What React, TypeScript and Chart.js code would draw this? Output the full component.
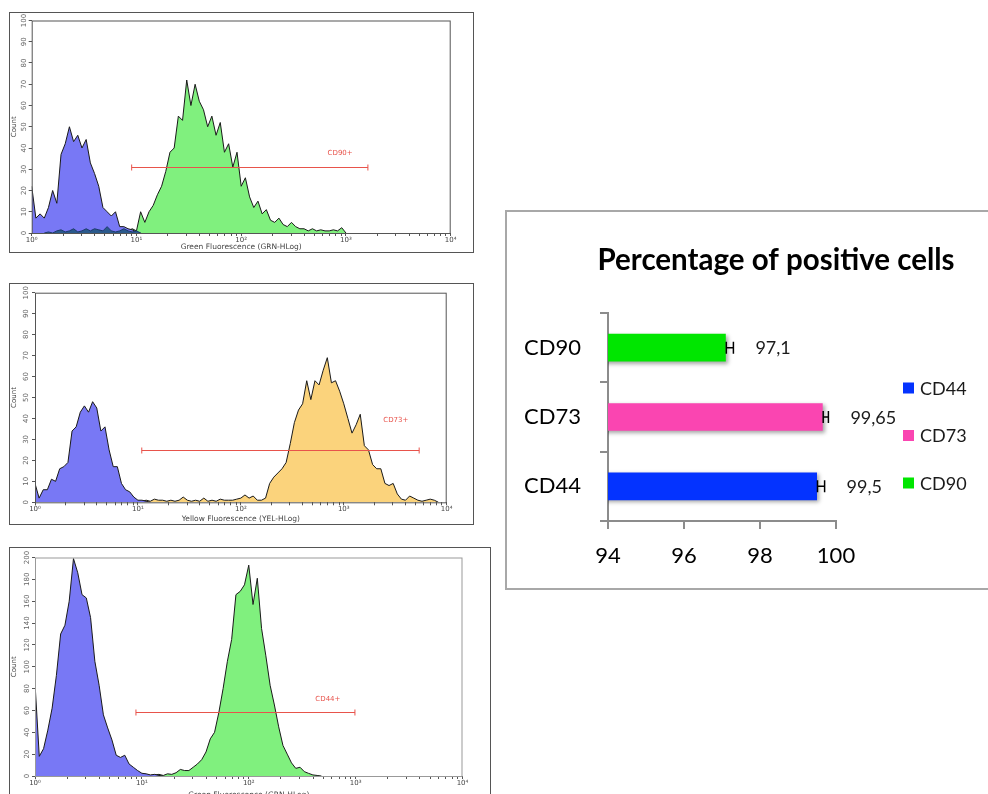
import React, { useEffect, useRef } from 'react';
import { Chart, registerables } from 'chart.js';

Chart.register(...registerables);

// ---------------- Flow cytometry histograms (counts per log channel) ----------------
const CH_PER_DECADE = 25;

// CD90 panel
const CD90_NEG_START = 0;
const CD90_NEG = [22, 7, 9, 7, 12, 20, 14, 37, 42, 50, 43, 46, 40, 44, 33, 28, 22, 12, 10, 8, 10, 3, 3, 2, 1.5, 0.5, 0];
const CD90_BG_START = 3;
const CD90_BG = [0, 0.5, 0, 1, 1.5, 0.5, 1, 2, 0.5, 1, 2, 1, 2, 1.5, 1, 3, 1, 0.5, 1, 2, 1, 0.5, 1, 0];
const CD90_POS_START = 21;
const CD90_POS = [1.5, 2, 1, 2, 1, 10, 5, 10, 13, 18, 22, 29, 38, 40, 55, 53, 72, 60, 70, 62, 58, 50, 55, 46, 52, 38, 42, 31, 38, 22, 26, 17, 12, 15, 9, 11, 6, 5, 7, 4, 3, 5, 3, 2, 2, 1, 2, 1, 1.5, 1, 1, 1.5, 1, 2.5, 0];

// CD73 panel
const CD73_NEG_START = 0;
const CD73_NEG = [9, 2, 6, 6, 11, 10, 16, 17, 19, 34, 36, 43, 46, 43, 48, 45, 34, 36, 25, 17, 17, 9, 6, 5, 2.5, 1, 1, 0.5, 0];
const CD73_POS_START = 26;
const CD73_POS = [0.5, 1, 0.5, 1.5, 1, 1, 0.5, 1, 0.5, 1, 2.5, 1, 0.5, 1, 0.5, 2, 0.5, 1, 0.5, 1.5, 1, 1, 1, 1.5, 2, 3.5, 2, 3, 1, 1, 2, 9, 12, 14, 16, 19, 28, 38, 44, 47, 58, 49, 58, 56, 63, 69, 57, 58, 53, 47, 40, 33, 37, 42, 27, 25, 18, 16, 16, 9, 8, 9, 4, 1.5, 1, 3, 2, 1, 0.5, 1, 1.5, 1, 0];

// CD44 panel
const CD44_NEG_START = 0;
const CD44_NEG = [85, 18, 25, 42, 62, 92, 130, 138, 160, 199, 186, 166, 163, 145, 105, 83, 56, 44, 33, 19, 17, 19, 11, 8, 5, 2.5, 2, 1, 1.5, 0.5, 0];
const CD44_POS_START = 27;
const CD44_POS = [0.5, 1, 1.5, 0.5, 2, 1.5, 3, 6, 5, 5, 8, 11, 15, 22, 34, 40, 58, 80, 105, 125, 166, 169, 175, 193, 157, 181, 135, 110, 83, 65, 45, 28, 20, 12, 7, 8, 4, 2.4, 1, 0.5, 0];

const X_TICK_LABELS: Record<number, string> = { 1: '10⁰', 10: '10¹', 100: '10²', 1000: '10³', 10000: '10⁴' };
const DECADE_STARTS = [1, 10, 100, 1000];
const DECADE_MULTS = [1, 2, 3, 4, 5, 6, 7, 8, 9];
const LOG_TICKS: number[] = [];
DECADE_STARTS.forEach((d) => DECADE_MULTS.forEach((m) => LOG_TICKS.push(m * d)));
LOG_TICKS.push(10000);

const GATE_CD90 = { from: 9.0, to: 1620, level: 31, label: 'CD90+', labelAt: 880, labelLevel: 37.5 };
const GATE_CD73 = { from: 10.9, to: 5400, level: 25, label: 'CD73+', labelAt: 3200, labelLevel: 39 };
const GATE_CD44 = { from: 8.8, to: 985, level: 59, label: 'CD44+', labelAt: 550, labelLevel: 70.5 };

const BLUE_FILL = '#7878f5';
const GREEN_FILL = '#80f07e';
const ORANGE_FILL = '#fbd37c';

// ---------------- Bar chart ----------------
const CHART_TITLE = 'Percentage of positive cells';
const MARKERS = ['CD44', 'CD73', 'CD90'];
const POSITIVE = [99.5, 99.65, 97.1];
const ERRORS = [0.2, 0.15, 0.2];
const BAR_COLORS = ['#0433ff', '#fa45b1', '#00e600'];
const X_MIN = 94;
const X_MAX = 100;
const X_STEP = 2;

const histExtras = {
  id: 'histExtras',
  afterDatasetsDraw(chart: any, _args: any, opts: any) {
    const { ctx, chartArea: a, scales } = chart;
    const x = scales.x;
    const y = scales.y;
    ctx.save();
    ctx.strokeStyle = opts.frameColor;
    ctx.lineWidth = 1;
    ctx.strokeRect(a.left + 0.5, a.top + 0.5, a.right - a.left - 1, a.bottom - a.top);
    const g = opts.gate;
    const x1 = x.getPixelForValue(g.from);
    const x2 = x.getPixelForValue(g.to);
    const gy = Math.round(y.getPixelForValue(g.level)) + 0.5;
    ctx.strokeStyle = '#e8534b';
    ctx.beginPath();
    ctx.moveTo(x1, gy);
    ctx.lineTo(x2, gy);
    ctx.moveTo(x1, gy - 3);
    ctx.lineTo(x1, gy + 3);
    ctx.moveTo(x2, gy - 3);
    ctx.lineTo(x2, gy + 3);
    ctx.stroke();
    ctx.fillStyle = '#e8534b';
    ctx.font = '7px "DejaVu Sans"';
    ctx.textAlign = 'center';
    ctx.textBaseline = 'middle';
    ctx.fillText(g.label, x.getPixelForValue(g.labelAt), y.getPixelForValue(g.labelLevel));
    ctx.fillStyle = '#666';
    for (const t of y.ticks) {
      const py = y.getPixelForValue(t.value);
      ctx.save();
      ctx.translate(a.left - opts.labelOffset, py);
      ctx.rotate(-Math.PI / 2);
      ctx.fillText(String(t.value), 0, 0);
      ctx.restore();
    }
    ctx.restore();
  },
};

type Series = { start: number; counts: number[]; fill: string; line: string; order: number };

type HistProps = {
  box: { left: number; top: number; width: number; height: number };
  series: Series[];
  xTitle: string;
  yMax: number;
  yStep: number;
  padTop: number;
  padRight: number;
  yWidth: number;
  xHeight: number;
  xTitlePad: number;
  labelOffset: number;
  frameColor: string;
  gate: typeof GATE_CD90;
};

function Histogram(p: HistProps) {
  const ref = useRef<HTMLCanvasElement>(null);
  const cw = p.box.width - 2;
  const chH = p.box.height - 2;
  useEffect(() => {
    if (!ref.current) return;
    const datasets = p.series.map((s) => ({
      data: s.counts.map((c, i) => ({ x: 10 ** ((s.start + i) / CH_PER_DECADE), y: c })),
      backgroundColor: s.fill,
      borderColor: s.line,
      borderWidth: 1,
      fill: 'origin',
      pointRadius: 0,
      tension: 0,
      order: s.order,
    }));
    const tickFont = { family: 'DejaVu Sans', size: 7 };
    const chart = new Chart(ref.current, {
      type: 'line',
      data: { datasets },
      options: {
        animation: false,
        responsive: false,
        maintainAspectRatio: false,
        events: [],
        layout: { padding: { left: 0, top: p.padTop, right: p.padRight, bottom: 0 } },
        plugins: {
          legend: { display: false },
          tooltip: { enabled: false },
          histExtras: { gate: p.gate, labelOffset: p.labelOffset, frameColor: p.frameColor },
        } as any,
        scales: {
          x: {
            type: 'logarithmic',
            min: 1,
            max: 10000,
            afterBuildTicks: (s: any) => {
              s.ticks = LOG_TICKS.map((v) => ({ value: v }));
            },
            afterFit: (s: any) => {
              s.height = p.xHeight;
            },
            ticks: {
              autoSkip: false,
              maxRotation: 0,
              minRotation: 0,
              padding: 0,
              font: tickFont,
              color: '#444',
              callback: (v: any) => X_TICK_LABELS[Number(v)] ?? '',
            },
            grid: { drawOnChartArea: false, drawTicks: true, tickLength: 3, color: '#555' },
            border: { display: false },
            title: {
              display: true,
              text: p.xTitle,
              color: '#444',
              font: { family: 'DejaVu Sans', size: 7.5 },
              padding: { top: 0, bottom: p.xTitlePad },
            },
          },
          y: {
            min: 0,
            max: p.yMax,
            afterFit: (s: any) => {
              s.width = p.yWidth;
            },
            ticks: { stepSize: p.yStep, display: false },
            grid: { drawOnChartArea: false, drawTicks: true, tickLength: 3, color: '#555' },
            border: { display: false },
            title: {
              display: true,
              text: 'Count',
              color: '#444',
              font: { family: 'DejaVu Sans', size: 7 },
              padding: { top: 0, bottom: 0 },
            },
          },
        } as any,
      },
      plugins: [histExtras],
    } as any);
    return () => chart.destroy();
  }, []);
  return (
    <div
      style={{
        position: 'absolute',
        left: p.box.left,
        top: p.box.top,
        width: p.box.width,
        height: p.box.height,
        boxSizing: 'border-box',
        border: '1px solid #555',
        background: '#fff',
      }}
    >
      <canvas ref={ref} width={cw} height={chH} style={{ position: 'absolute', left: 0, top: 0, width: cw, height: chH }} />
    </div>
  );
}

const barExtras = {
  id: 'barExtras',
  beforeDatasetsDraw(chart: any) {
    const ctx = chart.ctx;
    ctx.save();
    ctx.shadowColor = 'rgba(0,0,0,0.35)';
    ctx.shadowBlur = 4;
    ctx.shadowOffsetX = 2;
    ctx.shadowOffsetY = 2;
  },
  afterDatasetsDraw(chart: any) {
    const { ctx, chartArea: a, scales } = chart;
    ctx.restore();
    const xs = scales.x;
    const meta = chart.getDatasetMeta(0);
    ctx.save();
    // error bars
    ctx.strokeStyle = '#000';
    ctx.lineWidth = 1.5;
    POSITIVE.forEach((v, i) => {
      const py = meta.data[i].y;
      const xa = xs.getPixelForValue(v);
      const xb = xs.getPixelForValue(v + ERRORS[i]);
      ctx.beginPath();
      ctx.moveTo(xa, py);
      ctx.lineTo(xb, py);
      ctx.moveTo(xa + 0.5, py - 6);
      ctx.lineTo(xa + 0.5, py + 6);
      ctx.moveTo(xb, py - 6);
      ctx.lineTo(xb, py + 6);
      ctx.stroke();
    });
    // value labels
    ctx.fillStyle = '#1a1a1a';
    ctx.font = '18px Lato';
    ctx.textAlign = 'left';
    ctx.textBaseline = 'middle';
    POSITIVE.forEach((v, i) => {
      const py = meta.data[i].y;
      ctx.fillText(String(v).replace('.', ','), xs.getPixelForValue(v + ERRORS[i]) + 22, py + 1);
    });
    // legend
    MARKERS.forEach((m, i) => {
      const ly = a.top + 75 + i * 47.5;
      const lx = a.right + 67;
      ctx.fillStyle = BAR_COLORS[i];
      ctx.fillRect(lx, ly - 5.5, 11, 11);
      ctx.fillStyle = '#1a1a1a';
      ctx.fillText(m, lx + 17, ly + 1);
    });
    // title
    ctx.fillStyle = '#000';
    ctx.font = 'bold 29.5px Lato';
    ctx.textAlign = 'center';
    ctx.fillText(CHART_TITLE, a.left + 168, a.top - 53);
    ctx.restore();
  },
};

function BarPanel() {
  const ref = useRef<HTMLCanvasElement>(null);
  const W = 556;
  const H = 376;
  useEffect(() => {
    if (!ref.current) return;
    const axisColor = '#8c8c8c';
    const chart = new Chart(ref.current, {
      type: 'bar',
      data: {
        labels: MARKERS,
        datasets: [
          {
            data: POSITIVE,
            backgroundColor: BAR_COLORS,
            borderWidth: 0,
            barPercentage: 0.4,
            categoryPercentage: 1.0,
          },
        ],
      },
      options: {
        indexAxis: 'y',
        animation: false,
        responsive: false,
        maintainAspectRatio: false,
        events: [],
        layout: { padding: { left: 0, top: 101, right: W - 329, bottom: 0 } },
        plugins: { legend: { display: false }, tooltip: { enabled: false } },
        scales: {
          x: {
            type: 'linear',
            min: X_MIN,
            max: X_MAX,
            ticks: { stepSize: X_STEP, font: { family: 'Lato', size: 22 }, color: '#000', padding: 14 },
            grid: { drawOnChartArea: false, drawTicks: true, tickLength: 8, color: axisColor, lineWidth: 2 },
            border: { display: true, color: axisColor, width: 2 },
            afterFit: (s: any) => {
              s.height = H - 309;
            },
          },
          y: {
            type: 'category',
            reverse: true,
            ticks: { font: { family: 'Lato', size: 22 }, color: '#000', padding: 19 },
            grid: { drawOnChartArea: false, drawTicks: true, tickLength: 8, color: axisColor, lineWidth: 2, offset: true },
            border: { display: true, color: axisColor, width: 2 },
            afterFit: (s: any) => {
              s.width = 101;
            },
          },
        } as any,
      },
      plugins: [barExtras],
    } as any);
    return () => chart.destroy();
  }, []);
  return (
    <div
      style={{
        position: 'absolute',
        left: 505,
        top: 210,
        width: 560,
        height: 380,
        boxSizing: 'border-box',
        border: '2px solid #a8a8a8',
        background: '#fff',
      }}
    >
      <canvas ref={ref} width={W} height={H} style={{ position: 'absolute', left: 0, top: 0, width: W, height: H }} />
    </div>
  );
}

export default function App() {
  return (
    <div style={{ position: 'absolute', left: 0, top: 0, width: 988, height: 794, overflow: 'hidden', background: '#fff' }}>
      <Histogram
        box={{ left: 9, top: 12, width: 465, height: 241 }}
        series={[
          { start: CD90_BG_START, counts: CD90_BG, fill: '#2b5a8c', line: '#1d3a6a', order: 0 },
          { start: CD90_NEG_START, counts: CD90_NEG, fill: BLUE_FILL, line: '#1a1a1a', order: 1 },
          { start: CD90_POS_START, counts: CD90_POS, fill: GREEN_FILL, line: '#1a1a1a', order: 1 },
        ]}
        xTitle="Green Fluorescence (GRN-HLog)"
        yMax={100}
        yStep={10}
        padTop={7.5}
        padRight={22.3}
        yWidth={21.7}
        xHeight={19}
        xTitlePad={0}
        labelOffset={7.7}
        frameColor="#555"
        gate={GATE_CD90}
      />
      <Histogram
        box={{ left: 9, top: 283, width: 465, height: 242 }}
        series={[
          { start: CD73_NEG_START, counts: CD73_NEG, fill: BLUE_FILL, line: '#1a1a1a', order: 1 },
          { start: CD73_POS_START, counts: CD73_POS, fill: ORANGE_FILL, line: '#1a1a1a', order: 2 },
        ]}
        xTitle="Yellow Fluorescence (YEL-HLog)"
        yMax={100}
        yStep={10}
        padTop={8.7}
        padRight={26.3}
        yWidth={25}
        xHeight={21.7}
        xTitlePad={0.8}
        labelOffset={9}
        frameColor="#555"
        gate={GATE_CD73}
      />
      <Histogram
        box={{ left: 9, top: 547, width: 482, height: 260 }}
        series={[
          { start: CD44_NEG_START, counts: CD44_NEG, fill: BLUE_FILL, line: '#1a1a1a', order: 1 },
          { start: CD44_POS_START, counts: CD44_POS, fill: GREEN_FILL, line: '#1a1a1a', order: 2 },
        ]}
        xTitle="Green Fluorescence (GRN-HLog)"
        yMax={200}
        yStep={20}
        padTop={9.5}
        padRight={27.5}
        yWidth={25}
        xHeight={30}
        xTitlePad={6.8}
        labelOffset={7.5}
        frameColor="#999"
        gate={GATE_CD44}
      />
      <BarPanel />
    </div>
  );
}
